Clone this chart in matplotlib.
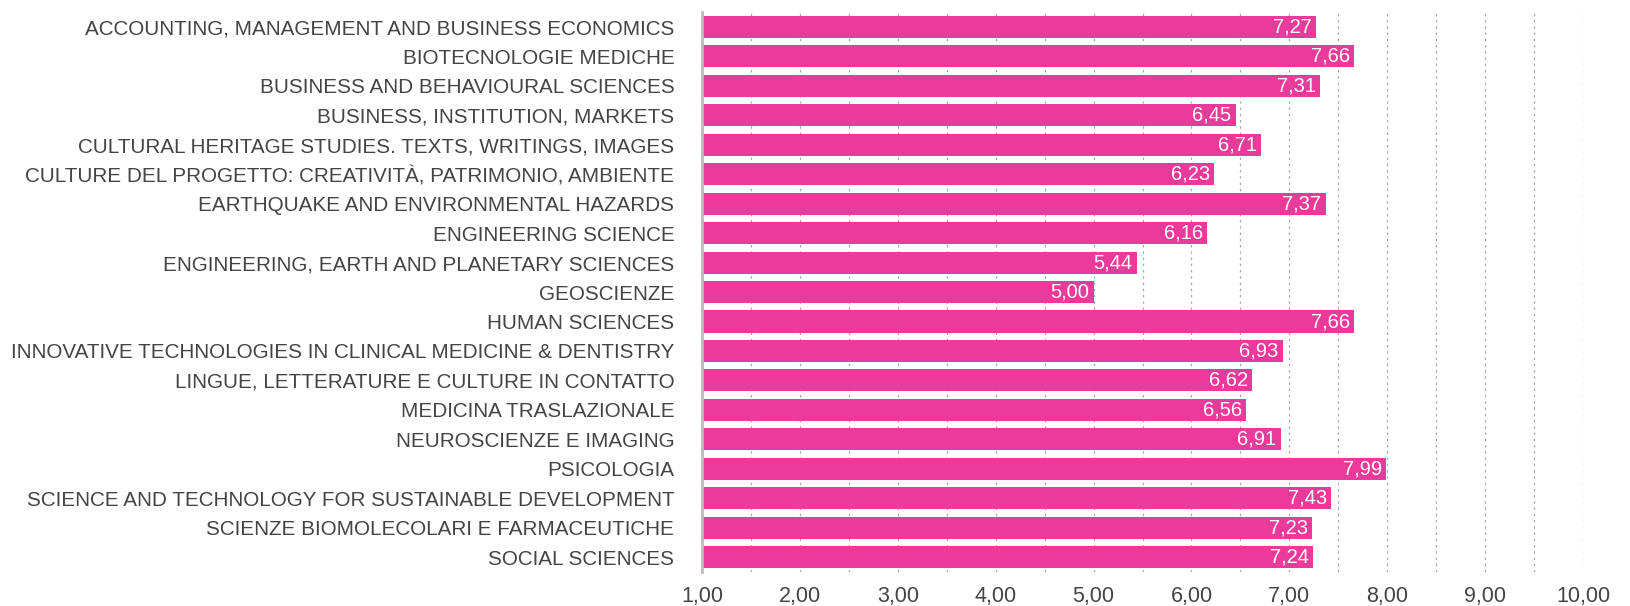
import matplotlib
matplotlib.use('Agg')
import matplotlib.pyplot as plt

plt.rcParams['font.family'] = ['Liberation Sans', 'DejaVu Sans']

courses = [
    'ACCOUNTING, MANAGEMENT AND BUSINESS ECONOMICS',
    'BIOTECNOLOGIE MEDICHE',
    'BUSINESS AND BEHAVIOURAL SCIENCES',
    'BUSINESS, INSTITUTION, MARKETS',
    'CULTURAL HERITAGE STUDIES. TEXTS, WRITINGS, IMAGES',
    'CULTURE DEL PROGETTO: CREATIVITÀ, PATRIMONIO, AMBIENTE',
    'EARTHQUAKE AND ENVIRONMENTAL HAZARDS',
    'ENGINEERING SCIENCE',
    'ENGINEERING, EARTH AND PLANETARY SCIENCES',
    'GEOSCIENZE',
    'HUMAN SCIENCES',
    'INNOVATIVE TECHNOLOGIES IN CLINICAL MEDICINE & DENTISTRY',
    'LINGUE, LETTERATURE E CULTURE IN CONTATTO',
    'MEDICINA TRASLAZIONALE',
    'NEUROSCIENZE E IMAGING',
    'PSICOLOGIA',
    'SCIENCE AND TECHNOLOGY FOR SUSTAINABLE DEVELOPMENT',
    'SCIENZE BIOMOLECOLARI E FARMACEUTICHE',
    'SOCIAL SCIENCES',
]
scores = [7.27, 7.66, 7.31, 6.45, 6.71, 6.23, 7.37, 6.16, 5.44, 5.00,
          7.66, 6.93, 6.62, 6.56, 6.91, 7.99, 7.43, 7.23, 7.24]
ticks = [1, 2, 3, 4, 5, 6, 7, 8, 9, 10]

pink = '#EB3B9A'
grey_txt = '#444444'

fig = plt.figure(figsize=(16.3, 6.06), dpi=100)
ax = fig.add_axes([0.4307, 0.0561, 0.5405, 0.924])

y = list(range(len(courses)))
ax.barh(y, scores, height=0.75, color=pink, zorder=2)
for i, v in enumerate(scores):
    ax.annotate(f'{v:.2f}'.replace('.', ','), (v, i), xytext=(-3, 0),
                textcoords='offset points', ha='right', va='center',
                color='white', fontsize=14.5, zorder=3)

ax.set_xlim(1, 10)
ax.set_ylim(len(courses) - 0.5, -0.5)
ax.set_yticks(y)
ax.set_yticklabels(courses, fontsize=14.85, color=grey_txt)
ax.set_xticks(ticks)
ax.set_xticklabels([f'{t:.2f}'.replace('.', ',') for t in ticks], fontsize=15.5, color=grey_txt)
ax.set_xticks([t + 0.5 for t in ticks[:-1]], minor=True)
ax.tick_params(axis='y', length=0, pad=20)
ax.tick_params(axis='x', length=0, pad=10)
ax.tick_params(axis='x', which='minor', length=0)
ax.grid(axis='x', which='both', color='#aaaaaa', linestyle=(0, (2, 3)), linewidth=0.9, zorder=0)
for s in ['top', 'right', 'bottom']:
    ax.spines[s].set_visible(False)
ax.spines['left'].set_color('#bbbbbb')
ax.spines['left'].set_linewidth(2)

fig.savefig('out.png', dpi=100)
